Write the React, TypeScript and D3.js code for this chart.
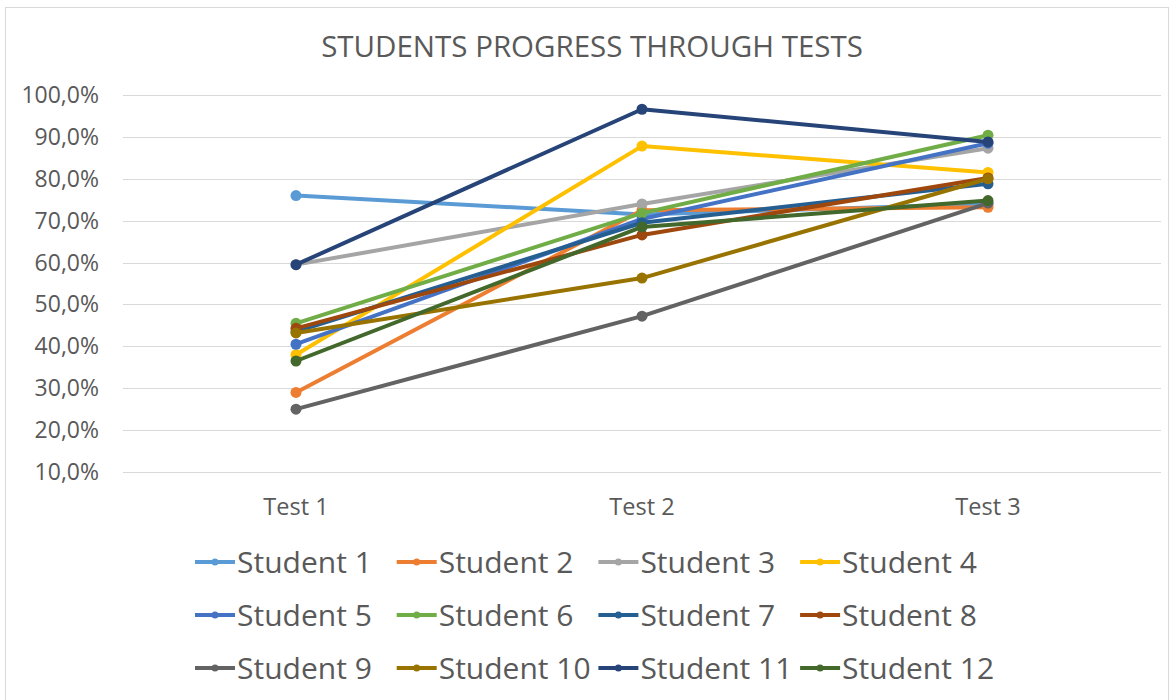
import { useEffect, useRef } from "react";
import * as d3 from "d3";

const tests = ["Test 1", "Test 2", "Test 3"];
const students = [
  "Student 1", "Student 2", "Student 3", "Student 4",
  "Student 5", "Student 6", "Student 7", "Student 8",
  "Student 9", "Student 10", "Student 11", "Student 12",
];
const colors = [
  "#5B9BD5", "#ED7D31", "#A5A5A5", "#FFC000",
  "#4472C4", "#70AD47", "#255E91", "#9E480E",
  "#636363", "#997300", "#264478", "#43682B",
];
// score per student, one value per test
const scores = [
  [0.76, 0.715, 0.74],
  [0.29, 0.725, 0.732],
  [0.595, 0.74, 0.873],
  [0.38, 0.878, 0.815],
  [0.405, 0.704, 0.885],
  [0.455, 0.718, 0.904],
  [0.435, 0.695, 0.788],
  [0.443, 0.666, 0.802],
  [0.25, 0.472, 0.742],
  [0.432, 0.563, 0.80],
  [0.595, 0.966, 0.888],
  [0.365, 0.685, 0.748],
];
const yTicks = [0.1, 0.2, 0.3, 0.4, 0.5, 0.6, 0.7, 0.8, 0.9, 1.0];
const title = "STUDENTS PROGRESS THROUGH TESTS";

export default function App() {
  const svgRef = useRef(null);

  useEffect(() => {
    const width = 1171;
    const height = 700;
    const font = "'Open Sans', sans-serif";
    const textColor = "#595959";

    const svg = d3.select(svgRef.current);
    svg.selectAll("*").remove();
    svg.attr("width", width).attr("height", height);

    svg.append("rect")
      .attr("x", 5.5).attr("y", 7.5)
      .attr("width", width - 8).attr("height", height)
      .attr("fill", "#fff")
      .attr("stroke", "#D9D9D9");

    svg.append("text")
      .attr("x", 592).attr("y", 57)
      .attr("text-anchor", "middle")
      .attr("font-family", font)
      .attr("font-size", 29.5)
      .attr("fill", textColor)
      .text(title);

    const xScale = d3.scaleBand().domain(tests).range([123, 1161]);
    const yScale = d3.scaleLinear().domain([0.1, 1]).range([472, 95]);
    const xc = (t) => xScale(t) + xScale.bandwidth() / 2;

    const locale = d3.formatLocale({
      decimal: ",", thousands: ".", grouping: [3], currency: ["", "€"], percent: "%",
    });
    const fmt = locale.format(".1%");

    // gridlines
    svg.append("g")
      .selectAll("line")
      .data(yTicks)
      .join("line")
      .attr("x1", 123).attr("x2", 1161)
      .attr("y1", (d) => Math.round(yScale(d)) + 0.5)
      .attr("y2", (d) => Math.round(yScale(d)) + 0.5)
      .attr("stroke", "#D9D9D9")
      .attr("stroke-width", 1);

    svg.append("g")
      .selectAll("text")
      .data(yTicks)
      .join("text")
      .attr("x", 99)
      .attr("y", (d) => yScale(d) + 8)
      .attr("text-anchor", "end")
      .attr("font-family", font)
      .attr("font-size", 23)
      .attr("fill", textColor)
      .text((d) => fmt(d));

    svg.append("g")
      .selectAll("text")
      .data(tests)
      .join("text")
      .attr("x", (d) => xc(d))
      .attr("y", 515)
      .attr("text-anchor", "middle")
      .attr("font-family", font)
      .attr("font-size", 23.5)
      .attr("fill", textColor)
      .text((d) => d);

    const line = d3.line()
      .x((d, i) => xc(tests[i]))
      .y((d) => yScale(d));

    students.forEach((name, s) => {
      const g = svg.append("g");
      g.append("path")
        .attr("d", line(scores[s]))
        .attr("fill", "none")
        .attr("stroke", colors[s])
        .attr("stroke-width", 4)
        .attr("stroke-linejoin", "round")
        .attr("stroke-linecap", "round");
      g.selectAll("circle")
        .data(scores[s])
        .join("circle")
        .attr("cx", (d, i) => xc(tests[i]))
        .attr("cy", (d) => yScale(d))
        .attr("r", 5.5)
        .attr("fill", colors[s]);
    });

    // legend
    const legend = svg.append("g");
    students.forEach((name, s) => {
      const col = s % 4;
      const row = Math.floor(s / 4);
      const x0 = 195 + col * 201.7;
      const y0 = 562 + row * 53;
      const item = legend.append("g").attr("transform", `translate(${x0},${y0})`);
      item.append("line")
        .attr("x1", 0).attr("x2", 40)
        .attr("y1", 0).attr("y2", 0)
        .attr("stroke", colors[s])
        .attr("stroke-width", 4);
      item.append("circle")
        .attr("cx", 20).attr("cy", 0).attr("r", 3.5)
        .attr("fill", colors[s]);
      item.append("text")
        .attr("x", 42).attr("y", 10.5)
        .attr("font-family", font)
        .attr("font-size", 30)
        .attr("fill", textColor)
        .text(name);
    });
  }, []);

  return (
    <svg ref={svgRef} style={{ position: "absolute", left: 0, top: 0 }} />
  );
}
